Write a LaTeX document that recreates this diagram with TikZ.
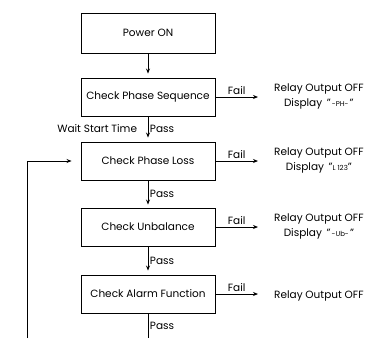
\documentclass[tikz,border=0pt]{standalone}
\usepackage{fontspec}
\setmainfont{Poppins}
\usetikzlibrary{arrows.meta}
\begin{document}
\begin{tikzpicture}[x=1pt,y=-1pt,
  font=\fontsize{10.5}{12}\selectfont,
  flowbox/.style={draw,line width=0.9pt,minimum width=134pt,inner sep=0pt},
  flowarrow/.style={line width=0.9pt,-{Stealth[length=5pt,width=4pt]}},
  plainline/.style={line width=0.9pt},
  lbl/.style={inner sep=1.5pt},
  outtxt/.style={align=center,inner sep=0pt,font=\fontsize{10.5}{15}\selectfont}]
\useasboundingbox (0,0) rectangle (366,338);
\node[flowbox,minimum height=40pt] (power) at (148,33) {Power ON};
\node[flowbox,minimum height=38pt] (seq) at (148,97) {Check Phase Sequence};
\node[flowbox,minimum height=38pt] (loss) at (148,161) {Check Phase Loss};
\node[flowbox,minimum height=38pt] (unb) at (148,227) {Check Unbalance};
\node[flowbox,minimum height=38pt] (alarm) at (148,294) {Check Alarm Function};
% outputs
\node[outtxt,anchor=west] (o1) at (274,96) {Relay Output OFF\\Display \,"{\fontsize{7}{8}\selectfont\,-PH-\,}"};
\node[outtxt,anchor=west] (o2) at (274,160) {Relay Output OFF\\Display \,"{\fontsize{7}{8}\selectfont L 123}"};
\node[outtxt,anchor=west] (o3) at (274,226) {Relay Output OFF\\Display \,"{\fontsize{7}{8}\selectfont\,-Ub-\,}"};
\node[outtxt,anchor=west] (o4) at (274,296) {Relay Output OFF};
% vertical flow
\draw[flowarrow,shorten >=4pt] (power) -- (seq);
\draw[flowarrow,shorten >=4pt] (seq) -- node[lbl,right] {Pass} node[lbl,left,xshift=-9pt] {Wait Start Time} (loss);
\draw[flowarrow,shorten >=3pt] (loss) -- node[lbl,right] {Pass} (unb);
\draw[flowarrow,shorten >=4pt] (unb) -- node[lbl,right] {Pass} (alarm);
\coordinate (bot) at (148,338);
\draw[plainline] (alarm) -- node[lbl,right] {Pass} (bot);
% fail arrows
\draw[flowarrow] (seq.east) -- node[lbl,above] {Fail} (seq.east -| 258,0);
\draw[flowarrow] (loss.east) -- node[lbl,above] {Fail} (loss.east -| 258,0);
\draw[flowarrow] (unb.east) -- node[lbl,above] {Fail} (unb.east -| 258,0);
\draw[flowarrow] (alarm.east) -- node[lbl,above] {Fail} (alarm.east -| 258,0);
% loop back
\coordinate (lb) at (27,338);
\draw[flowarrow,shorten >=9pt] (lb) |- (loss.west);
\end{tikzpicture}
\end{document}
